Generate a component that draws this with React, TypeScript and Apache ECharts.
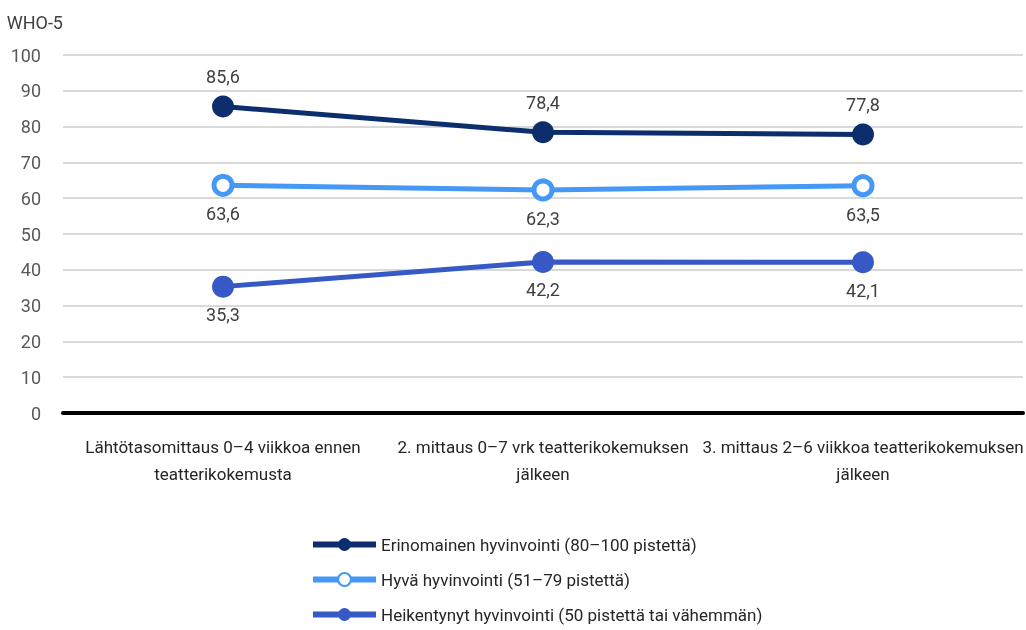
import React, { useEffect, useRef } from "react";
import * as echarts from "echarts";

const categories = [
  "Lähtötasomittaus 0–4 viikkoa ennen\nteatterikokemusta",
  "2. mittaus 0–7 vrk teatterikokemuksen\njälkeen",
  "3. mittaus 2–6 viikkoa teatterikokemuksen\njälkeen",
];
const seriesNames = [
  "Erinomainen hyvinvointi (80–100 pistettä)",
  "Hyvä hyvinvointi (51–79 pistettä)",
  "Heikentynyt hyvinvointi (50 pistettä tai vähemmän)",
];
const excellent = [85.6, 78.4, 77.8];
const good = [63.6, 62.3, 63.5];
const weak = [35.3, 42.2, 42.1];

const FONT = "Roboto, 'Noto Sans', sans-serif";
const fmt = (p: any) => String(p.value).replace(".", ",");

export default function App() {
  const ref = useRef<HTMLDivElement>(null);
  useEffect(() => {
    document.body.style.margin = "0";
    document.body.style.overflow = "hidden";
    if (!ref.current) return;
    const chart = echarts.init(ref.current, null, { renderer: "svg" });
    const labelStyle = { color: "#404040", fontSize: 18, fontFamily: FONT, formatter: fmt };
    const mk = (name: string, data: number[], color: string, hollow: boolean, pos: string) => ({
      name,
      type: "line",
      data,
      symbol: "circle",
      symbolSize: hollow ? 18 : 22,
      lineStyle: { color, width: 5 },
      itemStyle: hollow
        ? { color: "#ffffff", borderColor: color, borderWidth: 5 }
        : { color, borderColor: color, borderWidth: 0 },
      label: { show: true, position: pos, distance: pos === "top" ? 10 : 8, ...labelStyle },
    });
    const legendTops = [536, 571, 606];
    chart.setOption({
      animation: false,
      textStyle: { fontFamily: FONT },
      grid: { left: 63, right: 3, top: 55, bottom: 217, containLabel: false, outerBoundsMode: "none" },
      legend: seriesNames.map((n, i) => ({
        orient: "vertical",
        left: 310,
        top: legendTops[i],
        padding: 0,
        itemWidth: 63,
        itemHeight: 16,
        lineStyle: { width: 6 },
        textStyle: { color: "#262626", fontSize: 17, fontFamily: FONT },
        data: [n],
      })),
      xAxis: {
        type: "category",
        data: categories,
        axisLine: { lineStyle: { color: "#000000", width: 4 } },
        axisTick: { show: false },
        axisLabel: { color: "#262626", fontSize: 17, fontFamily: FONT, lineHeight: 27, margin: 20, interval: 0 },
      },
      yAxis: {
        type: "value",
        min: 0,
        max: 100,
        interval: 10,
        name: "WHO-5",
        nameLocation: "end",
        nameGap: 24,
        nameTextStyle: { color: "#404040", fontSize: 18, fontFamily: FONT, align: "right", padding: [0, 0, 0, 0] },
        axisLine: { show: false },
        axisTick: { show: false },
        axisLabel: { color: "#595959", fontSize: 18, fontFamily: FONT, margin: 22 },
        splitLine: { lineStyle: { color: "#d9d9d9", width: 2 } },
      },
      series: [
        mk(seriesNames[0], excellent, "#0c2e6c", false, "top"),
        mk(seriesNames[1], good, "#4598f5", true, "bottom"),
        mk(seriesNames[2], weak, "#3659c6", false, "bottom"),
      ],
    });
    return () => chart.dispose();
  }, []);
  return <div ref={ref} style={{ position: "fixed", left: 0, top: 0, width: 1026, height: 630 }} />;
}
